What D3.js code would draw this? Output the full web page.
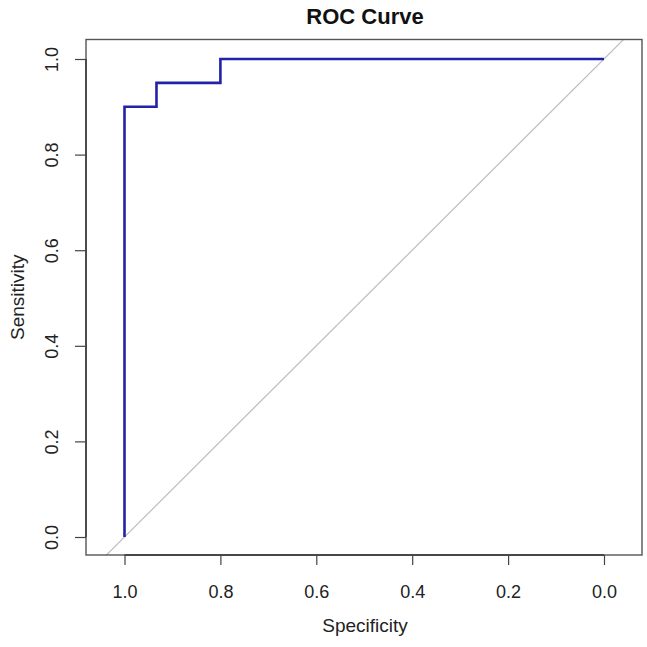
<!DOCTYPE html>
<html lang="en">
<head>
  <meta charset="UTF-8">
  <title>ROC Curve</title>
  <script src="https://d3js.org/d3.v7.min.js"></script>
  <style>
    * { margin: 0; padding: 0; box-sizing: border-box; }
    body { background: #fff; font-family: "Liberation Sans", Arial, sans-serif; }
  </style>
</head>
<body>
  <div id="chart"></div>
  <script>
    // ROC curve points (specificity, sensitivity)
    const specificity = [1, 1, 0.9333, 0.9333, 0.8, 0.8, 0];
    const sensitivity = [0, 0.9, 0.9, 0.95, 0.95, 1, 1];
    const tickValues = [0, 0.2, 0.4, 0.6, 0.8, 1];

    const W = 647, H = 647;
    const box = {left: 86, right: 642, top: 39.5, bottom: 555};

    const svg = d3.select("#chart")
                  .append("svg")
                  .attr("width", W)
                  .attr("height", H);

    // x is reversed: 1.0 on the left
    const x = d3.scaleLinear().domain([1, 0]).range([124.5, 604]);
    const y = d3.scaleLinear().domain([0, 1]).range([537, 59]);

    svg.append("defs").append("clipPath")
       .attr("id", "plotclip")
       .append("rect")
       .attr("x", box.left)
       .attr("y", box.top)
       .attr("width", box.right - box.left)
       .attr("height", box.bottom - box.top);

    // diagonal reference line (sens = 1 - spec), clipped to plot box
    svg.append("line")
       .attr("clip-path", "url(#plotclip)")
       .attr("x1", x(1.2)).attr("y1", y(-0.2))
       .attr("x2", x(-0.2)).attr("y2", y(1.2))
       .attr("stroke", "#bdbdbd")
       .attr("stroke-width", 1.2);

    const pts = specificity.map((s, i) => [s, sensitivity[i]]);
    svg.append("path")
       .datum(pts)
       .attr("fill", "none")
       .attr("stroke", "#2222a8")
       .attr("stroke-width", 2.6)
       .attr("stroke-linejoin", "miter")
       .attr("d", d3.line().x(d => x(d[0])).y(d => y(d[1])));

    // plot frame
    svg.append("rect")
       .attr("x", box.left)
       .attr("y", box.top)
       .attr("width", box.right - box.left)
       .attr("height", box.bottom - box.top)
       .attr("fill", "none")
       .attr("stroke", "#555")
       .attr("stroke-width", 1.4);

    // bottom axis
    const xAxis = svg.append("g")
       .attr("transform", `translate(0,${box.bottom})`)
       .call(d3.axisBottom(x).tickValues(tickValues).tickFormat(d3.format(".1f"))
               .tickSize(10).tickSizeOuter(0).tickPadding(20));
    xAxis.select(".domain").attr("d", `M${x(1)},0H${x(0)}`).attr("stroke", "#333").attr("stroke-width", 1.4);
    xAxis.selectAll(".tick line").attr("stroke", "#444").attr("stroke-width", 1.2);
    xAxis.selectAll(".tick text")
         .attr("fill", "#222")
         .style("font-size", "18px")
         .style("font-family", "Liberation Sans, Arial, sans-serif");

    // left axis, labels rotated
    const yAxis = svg.append("g")
       .attr("transform", `translate(${box.left},0)`)
       .call(d3.axisLeft(y).tickValues(tickValues).tickFormat(d3.format(".1f"))
               .tickSize(11).tickSizeOuter(0));
    yAxis.select(".domain").attr("d", `M0,${y(0)}V${y(1)}`).attr("stroke", "#333").attr("stroke-width", 1.4);
    yAxis.selectAll(".tick line").attr("stroke", "#444").attr("stroke-width", 1.2);
    yAxis.selectAll(".tick text")
         .attr("x", null).attr("dy", null)
         .attr("text-anchor", "middle")
         .attr("transform", "translate(-28.5,0) rotate(-90)")
         .attr("fill", "#222")
         .style("font-size", "18px")
         .style("font-family", "Liberation Sans, Arial, sans-serif");

    svg.append("text")
       .attr("x", 365)
       .attr("y", 24)
       .attr("text-anchor", "middle")
       .style("font-size", "22px")
       .style("font-weight", "bold")
       .attr("fill", "#111")
       .text("ROC Curve");

    svg.append("text")
       .attr("x", 365)
       .attr("y", 632)
       .attr("text-anchor", "middle")
       .style("font-size", "19px")
       .attr("fill", "#222")
       .text("Specificity");

    svg.append("text")
       .attr("transform", `translate(24,${(box.top + box.bottom) / 2}) rotate(-90)`)
       .attr("text-anchor", "middle")
       .style("font-size", "19px")
       .attr("fill", "#222")
       .text("Sensitivity");
  </script>
</body>
</html>
